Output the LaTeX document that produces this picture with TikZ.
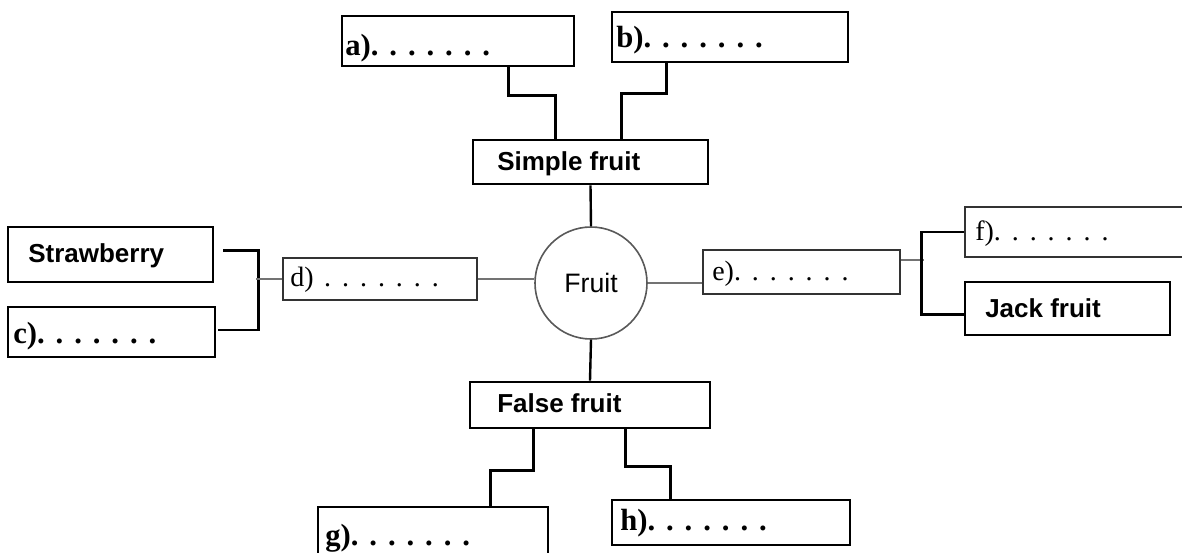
\documentclass[tikz,border=0pt]{standalone}
\usepackage{fontspec}
\setmainfont{Liberation Serif}
\newfontfamily\labsans{Liberation Sans}
\usetikzlibrary{fit,calc}
\newcommand\dg{\hspace{8.2pt}.}
\begin{document}
\begin{tikzpicture}[x=0.75pt,y=-0.75pt,
  box/.style={draw=black, line width=2.2pt, inner sep=0pt},
  lightbox/.style={draw=black!80, line width=1.6pt, inner sep=0pt},
  conn/.style={draw=black, line width=1.8pt},
  thinconn/.style={draw=black!55, line width=0.9pt},
  lab/.style={font=\fontsize{23}{25}\selectfont\bfseries, inner sep=0pt, anchor=base west},
  lightlab/.style={font=\fontsize{21}{24}\selectfont, inner sep=0pt, anchor=base west},
  sanslab/.style={font=\labsans\fontsize{19.5}{22}\selectfont\bfseries, inner sep=0pt, anchor=base west},
]
\useasboundingbox (0,0) rectangle (1182,553);
\clip (0,0) rectangle (1182,553);
\fill[white] (0,0) rectangle (1182,553);

% boxes
\node[box, fit={(342,16) (574,66)}] (a) {};
\node[box, fit={(612,12) (848,62)}] (b) {};
\node[box, fit={(473,140) (708,184)}] (simple) {};
\node[box, fit={(8,227) (213,282)}] (straw) {};
\node[box, fit={(8,307) (215,357)}] (c) {};
\node[lightbox, fit={(283,258) (477,300)}] (d) {};
\node[circle, draw=black!65, line width=1.2pt, minimum size=84pt, inner sep=0pt,
      font=\labsans\fontsize{20}{22}\selectfont] (fruit) at (591,283) {Fruit};
\node[lightbox, fit={(703,250) (900,294)}] (e) {};
\node[lightbox, fit={(965,207) (1200,257)}] (f) {};
\node[box, fit={(965,282) (1170,335)}] (jack) {};
\node[box, fit={(470,382) (710,428)}] (false) {};
\node[box, fit={(318,507) (548,575)}] (g) {};
\node[box, fit={(612,500) (850,545)}] (h) {};

% texts
\node[lab] (ta) at (345,55) {a).\dg\dg\dg\dg\dg\dg};
\node[lab] (tb) at (616,47) {b).\dg\dg\dg\dg\dg\dg};
\node[sanslab] (tsimple) at (497,170) {Simple fruit};
\node[sanslab] (tstraw) at (28,262) {Strawberry};
\node[lab] (tc) at (13,343) {c).\dg\dg\dg\dg\dg\dg};
\node[lightlab] (td) at (290,286) {d)\hspace{8pt}.\dg\dg\dg\dg\dg\dg};
\node[lightlab] (te) at (712,280) {e).\dg\dg\dg\dg\dg\dg};
\node[lightlab] (tf) at (975,240) {f).\dg\dg\dg\dg\dg\dg};
\node[sanslab] (tjack) at (985,317) {Jack fruit};
\node[sanslab] (tfalse) at (497,412) {False fruit};
\node[lab] (tg) at (325,545) {g).\dg\dg\dg\dg\dg\dg};
\node[lab] (th) at (620,530) {h).\dg\dg\dg\dg\dg\dg};

% connectors
\draw[conn] ($(a.south west)+(168,0)$) |- ($(simple.north west)+(84,-43)$) -- ($(simple.north west)+(84,0)$);
\draw[conn] ($(b.south west)+(56,0)$) |- ($(simple.north west)+(150,-45)$) -- ($(simple.north west)+(150,0)$);
\draw[conn] (simple.south) -- (fruit.north);
\draw[conn] (fruit.south) -- (false.north);
\draw[conn] ($(false.south west)+(65,0)$) |- ($(g.north west)+(174,-35)$) -- ($(g.north west)+(174,0)$);
\draw[conn] ($(false.south west)+(157,0)$) |- ($(h.north west)+(60,-32)$) -- ($(h.north west)+(60,0)$);
\draw[conn] ($(straw.east)+(9,-4)$) -| ($(c.east)+(42,-2)$) -- ($(c.east)+(2,-2)$);
\draw[thinconn] (d.west) -- ($(d.west)+(-26,0)$);
\draw[thinconn] (d.east) -- (d.east -| fruit.west);
\draw[thinconn] (fruit.east) -- (fruit.east -| e.west);
\draw[thinconn] ($(e.east)+(0,-12)$) -- ($(e.east)+(23,-12)$);
\draw[conn] (f.west) -| ($(jack.west)+(-42,6)$) -- ($(jack.west)+(0,6)$);
\end{tikzpicture}
\end{document}
